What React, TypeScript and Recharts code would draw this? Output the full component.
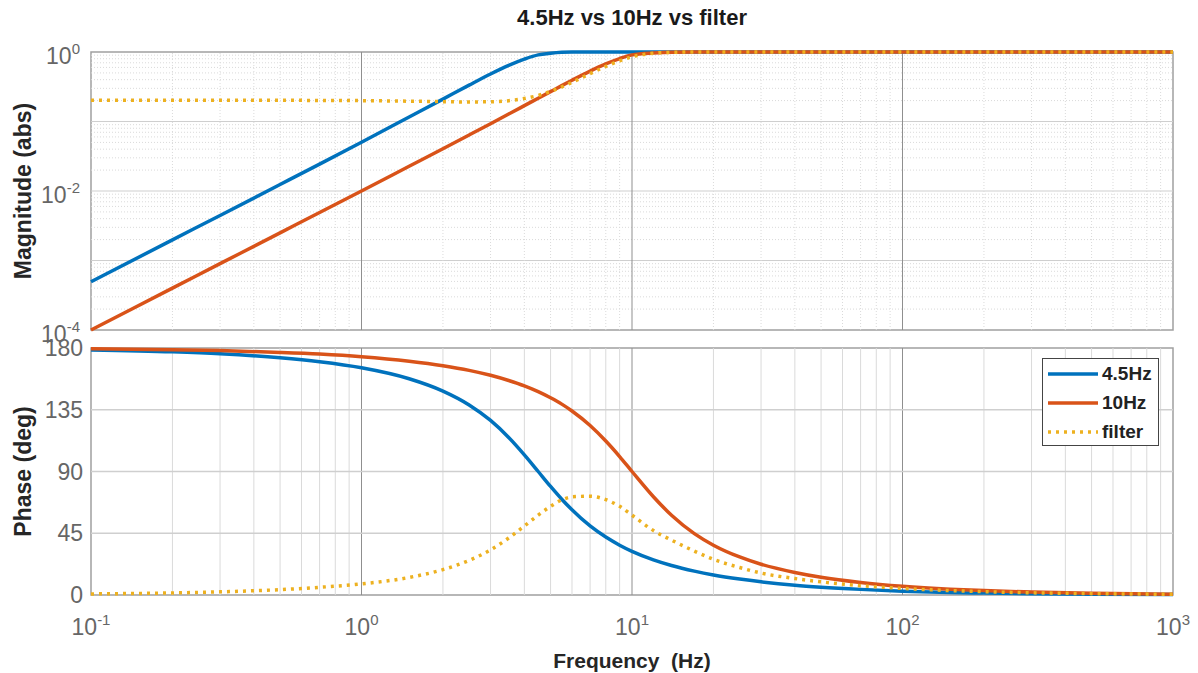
import React from "react";
import {
  Legend,
  Line,
  LineChart,
  ReferenceArea,
  ReferenceLine,
  XAxis,
  YAxis,
} from "recharts";

// values (frequency in Hz)
const frequency = [
  0.1, 0.2, 0.3, 0.5, 0.7, 1, 1.5, 2, 2.5, 3, 3.5, 4, 4.5, 5, 5.5, 6, 7, 8, 9,
  10, 12, 14, 17, 20, 25, 30, 40, 50, 70, 100, 150, 200, 300, 500, 1000,
];

const mag45 = [
  0.000494, 0.00198, 0.00445, 0.0124, 0.0244, 0.0503, 0.116, 0.21, 0.334,
  0.483, 0.642, 0.79, 0.909, 0.96, 0.99, 1, 1, 1, 1, 1, 1, 1, 1, 1, 1, 1, 1, 1,
  1, 1, 1, 1, 1, 1, 1,
];
const mag10 = [
  0.0001, 0.0004, 0.0009, 0.0025, 0.00491, 0.01, 0.0227, 0.0406, 0.064, 0.093,
  0.128, 0.169, 0.216, 0.269, 0.328, 0.392, 0.531, 0.673, 0.804, 0.909, 0.97,
  0.995, 1, 1, 1, 1, 1, 1, 1, 1, 1, 1, 1, 1, 1,
];
const magFilter = [
  0.2025, 0.202, 0.202, 0.2017, 0.201, 0.1996, 0.196, 0.193, 0.191, 0.1925,
  0.199, 0.214, 0.237, 0.271, 0.314, 0.366, 0.488, 0.621, 0.747, 0.853, 0.96,
  0.99, 1, 1, 1, 1, 1, 1, 1, 1, 1, 1, 1, 1, 1,
];

const phase45 = [
  178.6, 177.2, 175.8, 172.9, 170.0, 165.6, 157.6, 148.6, 138.5, 127.2, 114.8,
  102.1, 90.0, 79.1, 69.8, 62.1, 50.3, 42.2, 36.3, 31.8, 25.6, 21.5, 17.4, 14.6,
  11.6, 9.6, 7.1, 5.7, 4.1, 2.8, 1.9, 1.4, 0.95, 0.57, 0.28,
];
const phase10 = [
  179.4, 178.7, 178.1, 176.8, 175.6, 173.7, 170.4, 167.1, 163.7, 160.1, 156.3,
  152.4, 148.2, 143.7, 139.1, 134.1, 123.5, 112.2, 100.9, 90.0, 71.6, 58.1,
  44.7, 36.3, 27.7, 22.4, 16.4, 12.9, 9.1, 6.3, 4.2, 3.2, 2.1, 1.26, 0.63,
];
const phaseFilter = [
  0.8, 1.5, 2.3, 3.9, 5.6, 8.1, 12.8, 18.5, 25.2, 32.9, 41.5, 50.3, 58.2, 64.6,
  69.3, 71.5, 72, 69.5, 64.6, 58.2, 47, 40, 32, 26, 20, 16, 12, 9.6, 6.8, 4.8,
  3.2, 2.4, 1.6, 1.0, 0.5,
];

const xTicks = [0.1, 1, 10, 100, 1000];
const magTicks = [1e-4, 1e-2, 1];
const phaseTicks = [0, 45, 90, 135, 180];

// grid lines
const minorSteps = [2, 3, 4, 5, 6, 7, 8, 9];
const xDecades = [0.1, 1, 10, 100];
const xMajor = [1, 10, 100];
const magDecades = [1e-4, 1e-3, 1e-2, 1e-1];
const magMajor = [1e-3, 1e-2, 1e-1];
const phaseGrid = [45, 90, 135];

const minorOf = (decades: number[]) =>
  decades.flatMap((d) => minorSteps.map((k) => Number((k * d).toPrecision(3))));
const xMinor = minorOf(xDecades);
const magMinor = minorOf(magDecades);

const series = [
  { name: "4.5Hz", color: "#0072BD", dash: undefined },
  { name: "10Hz", color: "#D95319", dash: undefined },
  { name: "filter", color: "#EDB120", dash: "3 5" },
];

const data = frequency.map((f, i) => ({
  f,
  mag45: mag45[i],
  mag10: mag10[i],
  magFilter: magFilter[i],
  phase45: phase45[i],
  phase10: phase10[i],
  phaseFilter: phaseFilter[i],
}));

const FONT = '"Liberation Sans", Arial, Helvetica, sans-serif';
const TICK_COLOR = "#666";
const LABEL_COLOR = "#262626";
const FRAME = "#a0a0a0";
const MAJOR_V = "#8f8f8f";
const MINOR = "#dadada";

const XPowTick = (props: any) => {
  const { x, y, payload } = props;
  const exp = Math.round(Math.log10(payload.value));
  return (
    <text x={x} y={y + 32} textAnchor="middle" fill={TICK_COLOR} fontSize={23} fontFamily={FONT}>
      <tspan>10</tspan>
      <tspan dy={-10} fontSize={15}>{exp}</tspan>
    </text>
  );
};

const YPowTick = (props: any) => {
  const { x, y, payload } = props;
  const exp = Math.round(Math.log10(payload.value));
  return (
    <text x={x - 3} y={y + 12} textAnchor="end" fill={TICK_COLOR} fontSize={23} fontFamily={FONT}>
      <tspan>10</tspan>
      <tspan dy={-10} fontSize={15}>{exp}</tspan>
    </text>
  );
};

const YNumTick = (props: any) => {
  const { x, y, payload } = props;
  return (
    <text x={x} y={y + 8} textAnchor="end" fill={TICK_COLOR} fontSize={23} fontFamily={FONT}>
      {payload.value}
    </text>
  );
};

const YTitle = (props: any) => {
  const { viewBox, text } = props;
  const cx = 23;
  const cy = viewBox.y + viewBox.height / 2;
  return (
    <text
      x={cx}
      y={cy}
      transform={`rotate(-90, ${cx}, ${cy})`}
      textAnchor="middle"
      dominantBaseline="central"
      fontSize={23}
      fontWeight="bold"
      fill={LABEL_COLOR}
      fontFamily={FONT}
    >
      {text}
    </text>
  );
};

const XTitle = (props: any) => {
  const { viewBox } = props;
  const cx = viewBox.x + viewBox.width / 2;
  return (
    <text
      x={cx}
      y={viewBox.y + 73}
      textAnchor="middle"
      fontSize={21}
      fontWeight="bold"
      fill={LABEL_COLOR}
      fontFamily={FONT}
    >
      {"Frequency\u00a0\u00a0(Hz)"}
    </text>
  );
};

const LegendBox = () => (
  <div
    style={{
      width: 117,
      height: 88,
      boxSizing: "border-box",
      border: "1.5px solid #444",
      background: "#fff",
      fontFamily: FONT,
    }}
  >
    {series.map((s) => (
      <div key={s.name} style={{ display: "flex", alignItems: "center", height: 29 }}>
        <svg width={56} height={8} style={{ marginLeft: 3 }}>
          <line
            x1={2}
            y1={4}
            x2={52}
            y2={4}
            stroke={s.color}
            strokeWidth={3.5}
            strokeDasharray={s.dash}
          />
        </svg>
        <span style={{ fontSize: 19, fontWeight: "bold", color: "#222" }}>{s.name}</span>
      </div>
    ))}
  </div>
);

const vLines = (major: string, minorDash?: string) => [
  ...xMinor.map((v) => (
    <ReferenceLine key={`xm${v}`} x={v} stroke={MINOR} strokeDasharray={minorDash} />
  )),
  ...xMajor.map((v) => <ReferenceLine key={`xM${v}`} x={v} stroke={major} />),
];

const App = () => {
  return (
    <div style={{ position: "absolute", left: 0, top: 0, width: 1198, height: 673, background: "#fff" }}>
      <div
        style={{
          position: "absolute",
          left: 91,
          width: 1082,
          top: 6,
          textAlign: "center",
          fontFamily: FONT,
          fontWeight: "bold",
          fontSize: 22,
          lineHeight: "24px",
          color: "#1a1a1a",
        }}
      >
        4.5Hz vs 10Hz vs filter
      </div>

      <div style={{ position: "absolute", left: 0, top: 0 }}>
        <LineChart width={1198} height={352} data={data} margin={{ top: 52, right: 25, bottom: 22, left: 0 }}>
          <XAxis dataKey="f" type="number" scale="log" domain={[0.1, 1000]} ticks={xTicks} hide />
          <YAxis
            type="number"
            scale="log"
            domain={[1e-4, 1]}
            ticks={magTicks}
            width={91}
            tickLine={false}
            axisLine={false}
            tick={<YPowTick />}
            label={<YTitle text="Magnitude (abs)" />}
          />
          {magMinor.map((v) => (
            <ReferenceLine key={`ym${v}`} y={v} stroke={MINOR} strokeDasharray="1 2" />
          ))}
          {magMajor.map((v) => (
            <ReferenceLine key={`yM${v}`} y={v} stroke="#cfcfcf" />
          ))}
          {vLines(MAJOR_V, "1 2")}
          <ReferenceArea x1={0.1} x2={1000} y1={1e-4} y2={1} fill="none" stroke={FRAME} strokeWidth={1.5} />
          <Line dataKey="mag45" name="4.5Hz" type="monotone" stroke={series[0].color} strokeWidth={3.5} dot={false} isAnimationActive={false} />
          <Line dataKey="mag10" name="10Hz" type="monotone" stroke={series[1].color} strokeWidth={3.5} dot={false} isAnimationActive={false} />
          <Line dataKey="magFilter" name="filter" type="monotone" stroke={series[2].color} strokeWidth={3.5} strokeDasharray="3 5" dot={false} isAnimationActive={false} />
        </LineChart>
      </div>

      <div style={{ position: "absolute", left: 0, top: 320 }}>
        <LineChart width={1198} height={353} data={data} margin={{ top: 28, right: 25, bottom: 0, left: 0 }}>
          <XAxis
            dataKey="f"
            type="number"
            scale="log"
            domain={[0.1, 1000]}
            ticks={xTicks}
            height={78}
            tickLine={false}
            axisLine={false}
            tick={<XPowTick />}
            label={<XTitle />}
          />
          <YAxis
            type="number"
            domain={[0, 180]}
            ticks={phaseTicks}
            width={91}
            tickLine={false}
            axisLine={false}
            tick={<YNumTick />}
            label={<YTitle text="Phase (deg)" />}
          />
          {vLines(MAJOR_V)}
          {phaseGrid.map((v) => (
            <ReferenceLine key={`p${v}`} y={v} stroke="#cfcfcf" strokeWidth={1.5} />
          ))}
          <ReferenceArea x1={0.1} x2={1000} y1={0} y2={180} fill="none" stroke={FRAME} strokeWidth={1.5} />
          <Line dataKey="phase45" name="4.5Hz" type="monotone" stroke={series[0].color} strokeWidth={3.5} dot={false} isAnimationActive={false} />
          <Line dataKey="phase10" name="10Hz" type="monotone" stroke={series[1].color} strokeWidth={3.5} dot={false} isAnimationActive={false} />
          <Line dataKey="phaseFilter" name="filter" type="monotone" stroke={series[2].color} strokeWidth={3.5} strokeDasharray="3 5" dot={false} isAnimationActive={false} />
          <Legend
            layout="vertical"
            align="center"
            verticalAlign="middle"
            content={<LegendBox />}
            wrapperStyle={{ left: 1042, top: 38, width: 117, height: 88 }}
          />
        </LineChart>
      </div>
    </div>
  );
};

export default App;
